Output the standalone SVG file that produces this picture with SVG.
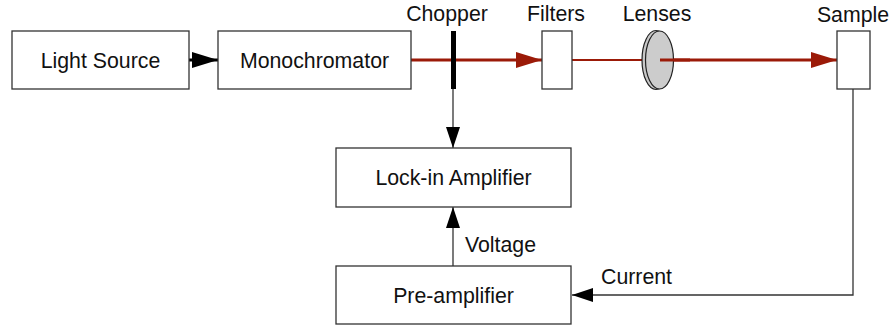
<svg xmlns="http://www.w3.org/2000/svg" width="894" height="330" viewBox="0 0 894 330">
<style>
.box{fill:#fff;stroke:#333;stroke-width:1.3}
.lbl{font-family:"Liberation Sans",Arial,sans-serif;font-size:21.3px;fill:#111;text-anchor:middle}
.lblL{font-family:"Liberation Sans",Arial,sans-serif;font-size:21.3px;fill:#111}
.beam{stroke:#9b1a08;stroke-width:3;fill:none}
.wire{stroke:#333;stroke-width:1.3;fill:none}
</style>
<defs>
<marker id="redhead" markerUnits="userSpaceOnUse" markerWidth="26" markerHeight="18" refX="26" refY="9" orient="auto">
<path d="M0,1 L26,9 L0,17 Z" fill="#9b1a08"/>
</marker>
<marker id="blkhead" markerUnits="userSpaceOnUse" markerWidth="21" markerHeight="14" refX="21" refY="7" orient="auto">
<path d="M0,0 L21,7 L0,14 Z" fill="#000"/>
</marker>
<marker id="blkbig" markerUnits="userSpaceOnUse" markerWidth="26" markerHeight="16" refX="26" refY="8" orient="auto">
<path d="M0,0 L26,8 L0,16 Z" fill="#000"/>
</marker>
</defs>
<g id="connectors">
<line x1="189" y1="60" x2="218" y2="60" stroke="#000" stroke-width="3" marker-end="url(#blkbig)"/>
<line class="beam" x1="411" y1="60" x2="542" y2="60" marker-end="url(#redhead)"/>
<line x1="572" y1="60" x2="643" y2="60" stroke="#9b1a08" stroke-width="2"/>
<line class="beam" x1="660" y1="60" x2="837" y2="60" marker-end="url(#redhead)"/>
<line class="wire" x1="453" y1="89" x2="453" y2="148" marker-end="url(#blkhead)"/>
<line class="wire" x1="453" y1="266" x2="453" y2="207" marker-end="url(#blkhead)"/>
<polyline class="wire" points="853,89 853,295 572,295" marker-end="url(#blkhead)"/>
<text class="lblL" x="465" y="252">Voltage</text>
<text class="lblL" x="601" y="284">Current</text>
</g>
<g id="light-source">
<rect class="box" x="12" y="31" width="177" height="58"/>
<text class="lbl" x="100.5" y="68">Light Source</text>
</g>
<g id="monochromator">
<rect class="box" x="218" y="31" width="193" height="58"/>
<text class="lbl" x="314.5" y="68">Monochromator</text>
</g>
<g id="chopper">
<rect x="451" y="31" width="5" height="58" fill="#000"/>
<text class="lbl" x="447" y="21">Chopper</text>
</g>
<g id="filters">
<rect class="box" x="542" y="31" width="30" height="58"/>
<text class="lbl" x="556" y="21">Filters</text>
</g>
<g id="lenses">
<ellipse cx="656" cy="60" rx="14" ry="29.5" fill="#c8c8c8" stroke="#222" stroke-width="1.2"/>
<ellipse cx="659.5" cy="60" rx="14" ry="29" fill="#cccccc" stroke="#222" stroke-width="1.2"/>
<text class="lbl" x="657" y="21">Lenses</text>
</g>
<g id="sample">
<rect class="box" x="837" y="31" width="33" height="58"/>
<text class="lbl" x="853" y="22">Sample</text>
</g>
<g id="lock-in-amplifier">
<rect class="box" x="336" y="148" width="235" height="59"/>
<text class="lbl" x="453.5" y="185">Lock-in Amplifier</text>
</g>
<g id="pre-amplifier">
<rect class="box" x="336" y="266" width="235" height="58"/>
<text class="lbl" x="453.5" y="303">Pre-amplifier</text>
</g>
<line class="beam" x1="660" y1="60" x2="690" y2="60"/>
</svg>
